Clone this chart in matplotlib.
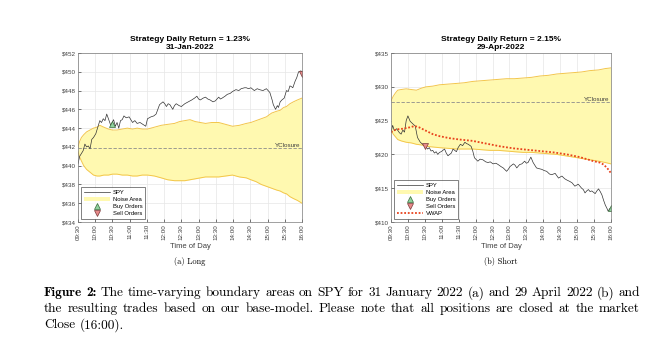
import matplotlib.pyplot as plt

plt.rcParams["font.family"] = ["Liberation Sans", "DejaVu Sans"]

# %%
# time axis labels (minutes from the open)
tick_minutes = [0, 30, 60, 90, 120, 150, 180, 210, 240, 270, 300, 330, 360, 390]
tick_labels = ["09:30", "10:00", "10:30", "11:00", "11:30", "12:00", "12:30",
               "13:00", "13:30", "14:00", "14:30", "15:00", "15:30", "16:00"]

# 31-Jan-2022 (long)
jan_spy_t = [0, 3, 6, 9, 12, 15, 18, 21, 24, 27, 31, 35, 38, 41, 44, 47, 50, 53,
             57, 62, 65, 68, 71, 74, 77, 80, 84, 89, 92, 95, 99, 103, 108, 113,
             118, 121, 124, 127, 132, 136, 142, 148, 151, 154, 157, 160, 163, 165,
             168, 171, 176, 180, 186, 192, 198, 203, 207, 210, 213, 218, 222, 226,
             230, 235, 239, 245, 248, 251, 256, 260, 265, 269, 275, 280, 284, 290,
             293, 297, 301, 307, 312, 316, 322, 328, 334, 338, 340, 344, 347, 349,
             352, 355, 359, 363, 366, 369, 372, 374, 378, 381, 384, 388, 390]
jan_spy = [440.2, 441.0, 441.3, 441.6, 442.3, 442.0, 442.1, 441.8, 442.8, 443.0,
           443.4, 444.2, 444.8, 444.6, 445.0, 444.8, 445.5, 445.0, 444.3, 444.9,
           444.2, 444.6, 444.0, 444.8, 444.9, 445.3, 445.1, 445.2, 444.9, 444.6,
           444.8, 444.5, 444.6, 444.4, 444.2, 445.0, 445.1, 445.2, 445.3, 445.5,
           446.5, 446.8, 446.6, 446.3, 446.6, 446.5, 446.2, 446.0, 446.4, 446.6,
           446.4, 446.3, 446.6, 446.8, 447.0, 447.2, 447.4, 447.1, 447.0, 447.2,
           447.3, 447.1, 447.0, 446.8, 446.9, 447.3, 447.1, 447.2, 447.4, 447.6,
           447.7, 447.9, 448.1, 448.0, 448.2, 448.3, 448.3, 448.2, 448.3, 448.0,
           448.2, 448.1, 448.0, 448.2, 447.8, 447.0, 446.5, 446.0, 446.4, 446.2,
           446.8, 447.0, 447.2, 448.0, 447.9, 448.5, 448.4, 448.3, 449.0, 449.4,
           450.0, 450.1, 450.0]
jan_band_t = [0, 3, 6, 10, 15, 21, 27, 33, 38, 45, 53, 60, 68, 77, 86, 95, 103,
              112, 121, 133, 145, 156, 168, 177, 186, 195, 204, 213, 222, 233,
              245, 257, 269, 281, 293, 301, 310, 319, 328, 337, 346, 352, 358,
              363, 369, 375, 382, 390]
jan_upper = [442.0, 442.6, 443.0, 443.3, 443.6, 443.8, 444.0, 444.1, 444.3, 444.1,
             443.9, 443.8, 443.8, 443.9, 444.0, 443.9, 444.0, 443.9, 443.9, 444.1,
             444.3, 444.4, 444.5, 444.7, 444.8, 444.9, 444.7, 444.6, 444.5, 444.6,
             444.6, 444.4, 444.2, 444.3, 444.5, 444.6, 444.8, 445.0, 445.2, 445.6,
             445.8, 445.9, 446.2, 446.3, 446.6, 446.8, 447.0, 447.2]
jan_lower = [441.5, 440.9, 440.5, 440.0, 439.6, 439.3, 439.0, 438.9, 438.9, 439.0,
             439.0, 439.1, 439.1, 439.0, 439.0, 438.9, 438.9, 439.0, 439.0, 438.9,
             438.7, 438.5, 438.4, 438.4, 438.4, 438.5, 438.6, 438.7, 438.8, 438.8,
             438.8, 438.9, 439.0, 438.8, 438.7, 438.5, 438.3, 438.0, 437.8, 437.6,
             437.4, 437.3, 437.1, 437.0, 436.7, 436.5, 436.3, 436.0]
jan_yclose = 441.9
jan_buy = (59, 444.4)
jan_sell = (390, 449.8)

# 29-Apr-2022 (short)
apr_spy_t = [0, 3, 6, 10, 15, 18, 21, 24, 27, 30, 34, 39, 43, 47, 52, 56, 61, 65,
             68, 71, 74, 77, 80, 83, 86, 89, 92, 95, 98, 101, 104, 107, 110, 113,
             116, 119, 123, 127, 131, 134, 137, 142, 145, 148, 154, 158, 163, 168,
             172, 176, 181, 186, 190, 195, 199, 205, 208, 211, 217, 220, 223, 228,
             232, 237, 240, 243, 248, 252, 258, 262, 267, 272, 276, 281, 285, 291,
             297, 303, 308, 312, 317, 321, 326, 332, 338, 341, 344, 347, 350, 353,
             356, 359, 362, 365, 368, 371, 374, 377, 380, 383, 385, 388, 390]
apr_spy = [423.3, 424.3, 423.5, 423.8, 423.2, 423.0, 423.6, 423.3, 425.0, 425.7,
           424.9, 424.5, 424.2, 422.5, 421.8, 421.5, 421.2, 420.8, 421.0, 420.5,
           420.6, 420.2, 420.4, 420.0, 420.3, 420.4, 420.6, 420.8, 420.2, 419.8,
           420.0, 420.2, 420.8, 420.6, 420.4, 421.0, 421.5, 421.3, 421.8, 421.6,
           421.5, 421.2, 420.5, 419.5, 419.0, 419.3, 419.2, 418.9, 418.8, 418.9,
           418.6, 418.7, 418.5, 418.2, 418.0, 417.5, 417.8, 418.2, 418.6, 418.4,
           418.0, 418.5, 418.6, 419.0, 418.7, 418.8, 419.6, 418.8, 418.0, 417.9,
           417.8, 417.6, 417.5, 417.1, 417.0, 417.2, 416.5, 416.8, 416.4, 416.2,
           416.0, 415.8, 415.3, 415.6, 415.0, 414.8, 414.3, 414.6, 414.8, 414.5,
           414.6, 414.4, 414.2, 414.6, 414.9, 414.5, 414.0, 413.2, 412.5, 412.0,
           411.6, 412.0, 412.0]
apr_band_t = [0, 4, 8, 12, 18, 27, 36, 45, 54, 62, 74, 86, 101, 116, 130, 145, 160,
              175, 190, 205, 219, 234, 249, 264, 279, 294, 309, 324, 338, 353, 368,
              380, 390]
apr_upper = [427.9, 428.6, 429.1, 429.5, 429.6, 429.7, 429.6, 429.5, 429.8, 430.0,
             430.1, 430.3, 430.4, 430.5, 430.6, 430.8, 430.9, 431.0, 431.1, 431.2,
             431.2, 431.3, 431.4, 431.6, 431.7, 431.9, 432.0, 432.1, 432.2, 432.4,
             432.5, 432.7, 432.8]
apr_lower = [423.6, 423.0, 422.6, 422.2, 422.0, 421.8, 421.7, 421.5, 421.4, 421.2,
             421.1, 421.0, 420.9, 420.8, 420.8, 420.8, 420.7, 420.6, 420.6, 420.5,
             420.4, 420.3, 420.3, 420.2, 420.1, 420.0, 419.8, 419.6, 419.4, 419.2,
             419.0, 418.8, 418.6]
apr_vwap_t = [0, 9, 21, 33, 42, 50, 62, 74, 86, 104, 122, 145, 169, 193, 217, 240,
              264, 288, 312, 335, 359, 370, 377, 383, 387, 390]
apr_vwap = [423.3, 423.7, 423.8, 424.0, 424.2, 424.0, 423.5, 423.0, 422.7, 422.4,
            422.2, 422.0, 421.6, 421.2, 420.9, 420.7, 420.5, 420.3, 420.0, 419.6,
            419.0, 418.8, 418.5, 418.0, 417.6, 417.2]
apr_yclose = 427.8
apr_sell = (61, 421.2)
apr_buy = (390, 412.1)

# %%
fig = plt.figure(figsize=(6.62, 3.39), dpi=100)

fill_col = "#fff9b0"
edge_col = "#f3c64a"
txt_col = "#404040"


def draw_panel(ax, spy_t, spy, band_t, upper, lower, yclose, buy, sell,
               title, yticks, vwap_t=None, vwap=None):
    ax.grid(True, color="#e6e6e6", lw=0.5)
    ax.set_axisbelow(True)
    h_fill = ax.fill_between(band_t, lower, upper, color=fill_col, lw=0)
    ax.plot(band_t, upper, color=edge_col, lw=0.7)
    ax.plot(band_t, lower, color=edge_col, lw=0.7)
    ax.axhline(yclose, color="#8c8c8c", lw=0.6, ls=(0, (4, 2)))
    ax.text(388, yclose, "YClosure", ha="right", va="bottom", fontsize=4.5,
            color=txt_col)
    h_spy, = ax.plot(spy_t, spy, color="#333333", lw=0.5)
    h_buy, = ax.plot([buy[0]], [buy[1]], marker="^", ms=4.5, mfc="#8fd19e",
                     mec="#3a6b3a", mew=0.5, ls="none")
    h_sell, = ax.plot([sell[0]], [sell[1]], marker="v", ms=4.5, mfc="#e88a8a",
                      mec="#7a3a3a", mew=0.5, ls="none")
    handles = [h_spy, h_fill, h_buy, h_sell]
    labels = ["SPY", "Noise Area", "Buy Orders", "Sell Orders"]
    if vwap is not None:
        h_vwap, = ax.plot(vwap_t, vwap, color="#e8421c", lw=1.3, ls=(0, (1, 1)))
        handles.append(h_vwap)
        labels.append("VWAP")

    ax.set_xlim(0, 390)
    ax.set_ylim(yticks[0], yticks[-1])
    ax.set_xticks(tick_minutes)
    ax.set_xticklabels(tick_labels, rotation=90)
    ax.set_yticks(yticks)
    ax.set_yticklabels(["$%d" % v for v in yticks])
    ax.tick_params(direction="in", length=2, width=0.5, labelsize=4.5,
                   colors=txt_col, pad=1.5)
    for s in ax.spines.values():
        s.set_color("#7a7a7a")
        s.set_linewidth(0.5)
    ax.set_xlabel("Time of Day", fontsize=5.5, color=txt_col, labelpad=2)
    ax.set_title(title, fontsize=6.0, fontweight="bold", pad=3, linespacing=1.25)

    leg = ax.legend(handles, labels, loc="lower left", fontsize=4.2, numpoints=1,
                    frameon=True, fancybox=False, handlelength=4.5,
                    borderpad=0.4, labelspacing=0.35, handletextpad=0.5,
                    borderaxespad=0.6)
    leg.get_frame().set_edgecolor("#222222")
    leg.get_frame().set_linewidth(0.5)


ax1 = fig.add_axes([0.1178, 0.3451, 0.3384, 0.4985])
draw_panel(ax1, jan_spy_t, jan_spy, jan_band_t, jan_upper, jan_lower, jan_yclose,
           jan_buy, jan_sell, "Strategy Daily Return = 1.23%\n31-Jan-2022",
           list(range(434, 453, 2)))

ax2 = fig.add_axes([0.5906, 0.3451, 0.3323, 0.4985])
draw_panel(ax2, apr_spy_t, apr_spy, apr_band_t, apr_upper, apr_lower, apr_yclose,
           apr_buy, apr_sell, "Strategy Daily Return = 2.15%\n29-Apr-2022",
           list(range(410, 436, 5)), apr_vwap_t, apr_vwap)

# %%
# captions
fig.text(190 / 662, 1 - 262 / 339, "(a) Long", family="cmr10", fontsize=6,
         ha="center", va="center")
fig.text(501 / 662, 1 - 262 / 339, "(b) Short", family="cmr10", fontsize=6,
         ha="center", va="center")

caption_lines = [
    "Figure 2: The time-varying boundary areas on SPY for 31 January 2022 (a) and 29 April 2022 (b) and",
    "the resulting trades based on our base-model. Please note that all positions are closed at the market",
    "Close (16:00).",
]
x_left, x_right = 44, 640
cap_size = 9.6
renderer = fig.canvas.get_renderer()
for i, line in enumerate(caption_lines):
    y = 1 - (293 + 16 * i) / 339
    words = line.split(" ")
    fams = ["cmr10"] * len(words)
    if i == 0:
        fams[0] = fams[1] = "cmb10"
    objs = [fig.text(0, y, w, family=f, fontsize=cap_size, ha="left",
                     va="center") for w, f in zip(words, fams)]
    widths = [o.get_window_extent(renderer).width for o in objs]
    if i < len(caption_lines) - 1:
        gap = (x_right - x_left - sum(widths)) / (len(words) - 1)
    else:
        gap = cap_size * 0.45
    x = x_left
    for o, w in zip(objs, widths):
        o.set_x(x / 662)
        x += w + gap

fig.savefig("out.png", dpi=100)
